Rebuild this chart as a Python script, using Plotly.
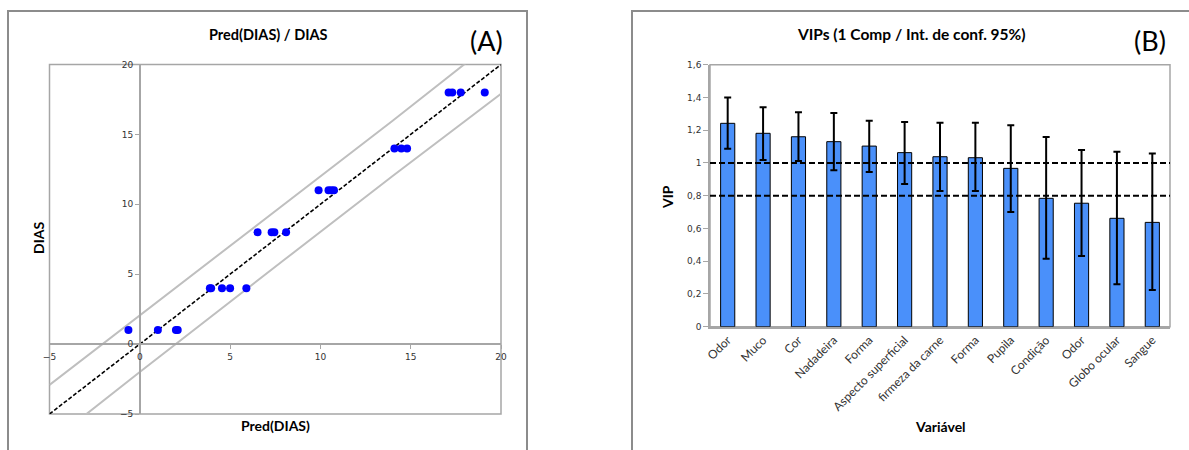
import plotly.graph_objects as go

W, H = 1189, 450

# ---------------- Panel A data ----------------
pred_dias = [-0.63, 1.0, 2.0, 2.1,
             3.88, 3.95, 4.55, 5.0, 5.9,
             6.52, 7.3, 7.45, 8.1,
             9.9, 10.45, 10.6, 10.75,
             14.1, 14.48, 14.8,
             17.1, 17.3, 17.77, 19.1]
dias = [1, 1, 1, 1,
        4, 4, 4, 4, 4,
        8, 8, 8, 8,
        11, 11, 11, 11,
        14, 14, 14,
        18, 18, 18, 18]
diag_x = [-5, 20]
diag_y = [-5, 20]
band_x = [-5, 0, 8, 14, 20]
band_upper = [-2.92, 2.05, 9.97, 15.98, 22.08]
band_lower = [-7.08, -2.0, 6.03, 12.02, 17.9]
ticks_a = [-5, 0, 5, 10, 15, 20]

# ---------------- Panel B data ----------------
variaveis = ["Odor", "Muco", "Cor", "Nadadeira", "Forma", "Aspecto superficial",
             "firmeza da carne", "Forma", "Pupila", "Condição", "Odor",
             "Globo ocular", "Sangue"]
vip = [1.242, 1.181, 1.160, 1.130, 1.103, 1.063, 1.038, 1.032, 0.967, 0.784,
       0.754, 0.662, 0.637]
ci_upper = [1.400, 1.340, 1.309, 1.305, 1.258, 1.250, 1.246, 1.246, 1.230,
            1.158, 1.079, 1.069, 1.057]
ci_lower = [1.087, 1.018, 1.012, 0.955, 0.945, 0.871, 0.829, 0.829, 0.700,
            0.415, 0.432, 0.259, 0.224]
ref_lines = [1.0, 0.8]

err_plus = [u - v for u, v in zip(ci_upper, vip)]
err_minus = [v - l for v, l in zip(vip, ci_lower)]
xpos = list(range(len(variaveis)))

# ---------------- geometry (pixels -> paper) ----------------
def px(x):
    return x / W

def py(y):
    return 1 - y / H

a_x0, a_x1, a_y0, a_y1 = 49.5, 501.0, 64.5, 414.0
b_x0, b_x1, b_y0, b_y1 = 710.0, 1170.0, 64.7, 326.7

a_zero_x = a_x0 + (0 - (-5)) / 25 * (a_x1 - a_x0)
a_zero_y = a_y1 - (0 - (-5)) / 25 * (a_y1 - a_y0)

fig = go.Figure()

grey = "#a6a6a6"
tickfont = dict(family="DejaVu Sans", size=9, color="#333333")

fig.add_trace(go.Scatter(x=band_x, y=band_upper, mode="lines",
                         line=dict(color="#bfbfbf", width=2),
                         xaxis="x", yaxis="y", showlegend=False, hoverinfo="skip"))
fig.add_trace(go.Scatter(x=band_x, y=band_lower, mode="lines",
                         line=dict(color="#bfbfbf", width=2),
                         xaxis="x", yaxis="y", showlegend=False, hoverinfo="skip"))
fig.add_trace(go.Scatter(x=diag_x, y=diag_y, mode="lines",
                         line=dict(color="black", width=1.6, dash="4px,2px"),
                         xaxis="x", yaxis="y", showlegend=False, hoverinfo="skip"))
fig.add_trace(go.Scatter(x=pred_dias, y=dias, mode="markers",
                         marker=dict(color="#0000ff", size=8),
                         xaxis="x", yaxis="y", showlegend=False))

fig.add_trace(go.Bar(x=xpos, y=vip, width=0.4,
                     marker=dict(color="#4a90fa", line=dict(color="black", width=1)),
                     error_y=dict(type="data", symmetric=False, array=err_plus,
                                  arrayminus=err_minus, color="black",
                                  thickness=2, width=3.5),
                     xaxis="x2", yaxis="y2", showlegend=False))
for r in ref_lines:
    fig.add_trace(go.Scatter(x=[-0.5, len(variaveis) - 0.5], y=[r, r], mode="lines",
                             line=dict(color="black", width=2, dash="6px,3px"),
                             xaxis="x2", yaxis="y2", showlegend=False, hoverinfo="skip"))

fig.update_layout(
    width=W, height=H,
    margin=dict(l=0, r=0, t=0, b=0, autoexpand=False),
    showlegend=False,
    paper_bgcolor="white", plot_bgcolor="white",
    separators=",.",
    xaxis=dict(domain=[px(a_x0), px(a_x1)], range=[-5, 20], tickvals=ticks_a,
               anchor="free", position=py(a_zero_y), automargin=False,
               showline=True, linecolor=grey, linewidth=1.5,
               ticks="outside", ticklen=4, tickcolor=grey,
               showgrid=False, zeroline=False, tickfont=tickfont),
    yaxis=dict(domain=[py(a_y1), py(a_y0)], range=[-5, 20], tickvals=ticks_a,
               anchor="free", position=px(a_zero_x), automargin=False,
               showline=True, linecolor=grey, linewidth=1.5,
               ticks="outside", ticklen=4, tickcolor=grey,
               showgrid=False, zeroline=False, tickfont=tickfont),
    xaxis2=dict(domain=[px(b_x0), px(b_x1)], range=[-0.5, len(variaveis) - 0.5],
                tickvals=xpos, ticktext=variaveis, tickangle=-45, automargin=False,
                anchor="y2", showline=True, linecolor=grey, linewidth=1.5,
                ticks="", showgrid=False, zeroline=False,
                tickfont=dict(family="Lato", size=12, color="#333333")),
    yaxis2=dict(domain=[py(b_y1), py(b_y0)], range=[0, 1.6], dtick=0.2, automargin=False,
                anchor="x2", showline=True, linecolor=grey, linewidth=1.5,
                ticks="outside", ticklen=5, tickcolor=grey,
                showgrid=False, zeroline=False, tickfont=tickfont),
    bargap=0.6,
)

shapes = []
shapes.append(dict(type="rect", xref="x domain", yref="y domain", x0=0, x1=1, y0=0, y1=1,
                   line=dict(color=grey, width=1.5), fillcolor="rgba(0,0,0,0)", layer="below"))
shapes.append(dict(type="rect", xref="x2 domain", yref="y2 domain", x0=0, x1=1, y0=0, y1=1,
                   line=dict(color=grey, width=1.5), fillcolor="rgba(0,0,0,0)", layer="below"))
shapes.append(dict(type="rect", xref="paper", yref="paper", x0=px(8), x1=px(527),
                   y0=-0.05, y1=py(11), line=dict(color="#8c8c8c", width=2)))
shapes.append(dict(type="rect", xref="paper", yref="paper", x0=px(632), x1=1.05,
                   y0=-0.05, y1=py(11), line=dict(color="#8c8c8c", width=2)))
fig.update_layout(shapes=shapes)

ax_font = dict(family="Lato", size=14, color="black")
ann = [
    dict(text="<b>Pred(DIAS) / DIAS</b>", x=px(268), y=py(34),
         font=dict(family="Lato", size=14.5, color="black")),
    dict(text="(A)", x=px(486), y=py(40), font=dict(family="Lato", size=27, color="black")),
    dict(text="<b>Pred(DIAS)</b>", x=px(275), y=py(425), font=ax_font),
    dict(text="<b>DIAS</b>", x=px(39), y=py(238), textangle=-90, font=ax_font),
    dict(text="<b>VIPs (1 Comp / Int. de conf. 95%)</b>", x=px(911), y=py(34),
         font=dict(family="Lato", size=15.5, color="black")),
    dict(text="(B)", x=px(1150), y=py(40), font=dict(family="Lato", size=27, color="black")),
    dict(text="<b>VIP</b>", x=px(667), y=py(197), textangle=-90, font=ax_font),
    dict(text="<b>Variável</b>", x=px(940), y=py(426), font=ax_font),
]
for a in ann:
    a.update(xref="paper", yref="paper", showarrow=False, xanchor="center", yanchor="middle")
fig.update_layout(annotations=ann)

fig.write_html("out.html")
